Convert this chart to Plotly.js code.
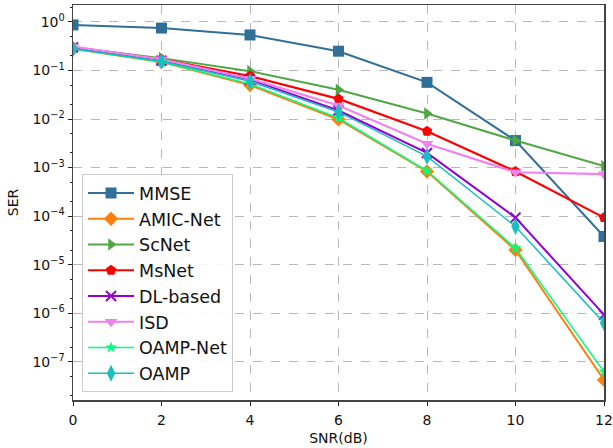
<!DOCTYPE html>
<html><head><meta charset="utf-8">
<script src="https://cdn.plot.ly/plotly-3.0.1.min.js"></script>
<style>html,body{margin:0;padding:0;background:#fff}#plot{width:613px;height:448px}</style>
</head><body><div id="plot"></div>
<script>
const snr = [0, 2, 4, 6, 8, 10, 12];
const mmse    = [0.87, 0.75, 0.54, 0.25, 0.057, 0.0036, 3.8e-5];
const amicNet = [0.28, 0.15, 0.05, 0.0098, 8.3e-4, 2.0e-5, 4.2e-8];
const scNet   = [0.30, 0.18, 0.097, 0.040, 0.013, 0.0036, 1.07e-3];
const msNet   = [0.30, 0.17, 0.077, 0.026, 0.0056, 8.3e-4, 9.3e-5];
const dlBased = [0.30, 0.16, 0.065, 0.015, 0.0020, 9.3e-5, 9.3e-7];
const isd     = [0.31, 0.17, 0.068, 0.019, 0.0031, 8.0e-4, 7.3e-4];
const oampNet = [0.28, 0.15, 0.053, 0.0105, 8.6e-4, 2.2e-5, 6.2e-8];
const oamp    = [0.28, 0.155, 0.060, 0.014, 0.0017, 6.1e-5, 6.3e-7];

const names = ['MMSE','AMIC-Net','ScNet','MsNet','DL-based','ISD','OAMP-Net','OAMP'];
const series = [mmse, amicNet, scNet, msNet, dlBased, isd, oampNet, oamp];
const colors = ['#2f6f98','#ff7f0e','#4fa843','#ff0000','#9400d3','#ee82ee','#00ff7f','#17bfbf'];
const symbols = ['square','diamond','triangle-right','pentagon','x-thin-open','triangle-down','star','diamond-tall'];
const msizes = [11, 11, 11, 11, 10, 11, 9, 12];
const lwidths = [2, 2, 2, 2.2, 2, 2.2, 1.5, 1.5];

const yTickVals = [1, 0.1, 0.01, 0.001, 1e-4, 1e-5, 1e-6, 1e-7];
const yTickText = ['10<sup>0</sup>','10<sup>−1</sup>','10<sup>−2</sup>','10<sup>−3</sup>','10<sup>−4</sup>','10<sup>−5</sup>','10<sup>−6</sup>','10<sup>−7</sup>'];
const xTickVals = [0, 2, 4, 6, 8, 10, 12];

const traces = series.map((s, i) => ({
  x: snr, y: s, name: names[i], type: 'scatter', mode: 'lines+markers',
  line: {color: colors[i], width: lwidths[i]},
  marker: {symbol: symbols[i], size: msizes[i], color: colors[i],
           line: {color: colors[i], width: symbols[i] === 'x-thin-open' ? 2 : 0}}
}));

const layout = {
  width: 613, height: 448,
  margin: {l: 73, r: 9, t: 5, b: 48},
  paper_bgcolor: '#fff', plot_bgcolor: '#fff',
  font: {family: 'DejaVu Sans', size: 14, color: '#111'},
  showlegend: true,
  legend: {x: 0.017, y: 0.02, xanchor: 'left', yanchor: 'bottom',
           bgcolor: 'rgba(255,255,255,0.9)', bordercolor: '#cccccc', borderwidth: 1,
           font: {family: 'DejaVu Sans', size: 17.5, color: '#111'}, itemwidth: 46, tracegroupgap: 0},
  xaxis: {range: [0, 12], tickmode: 'array', tickvals: xTickVals,
          showline: true, mirror: true, linecolor: '#444', linewidth: 1.5,
          ticks: 'outside', ticklen: 4, tickcolor: '#222', ticklabelstandoff: 3,
          showgrid: true, gridcolor: '#b8b8b8', griddash: 'dash', gridwidth: 1, zeroline: false,
          tickfont: {size: 14},
          title: {text: 'SNR(dB)', font: {size: 14}, standoff: 6}},
  yaxis: {type: 'log', range: [-7.79, 0.35], tickmode: 'array', tickvals: yTickVals, ticktext: yTickText,
          showline: true, mirror: true, linecolor: '#444', linewidth: 1.5,
          ticks: 'outside', ticklen: 4, tickcolor: '#222',
          showgrid: true, gridcolor: '#b8b8b8', griddash: 'dash', gridwidth: 1, zeroline: false,
          tickfont: {size: 14},
          minor: {tickmode: 'auto', dtick: 'D1', ticks: 'outside', ticklen: 2, tickcolor: '#222', showgrid: false},
          title: {text: 'SER', font: {size: 14}, standoff: 10}}
};

Plotly.newPlot('plot', traces, layout, {displayModeBar: false, staticPlot: true});
</script>
</body></html>
